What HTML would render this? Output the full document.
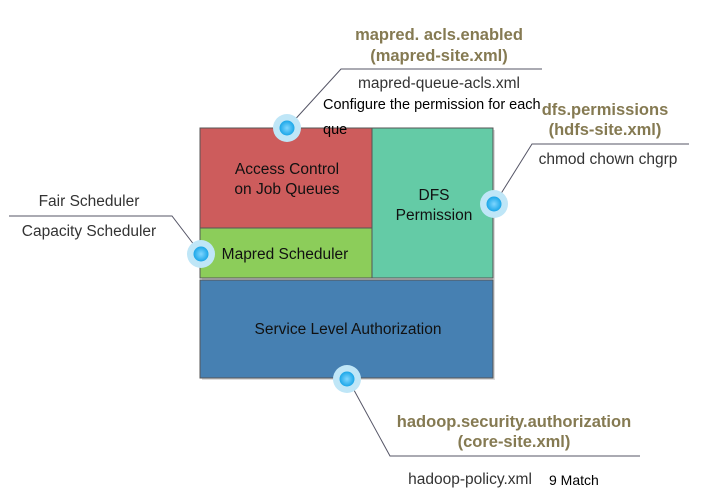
<!DOCTYPE html>
<html><head><meta charset="utf-8"><style>
body{margin:0;background:#fff;}
svg{display:block;font-family:"Liberation Sans",sans-serif;}
.b{font-weight:bold;fill:#857a52;font-size:16.5px;}
.t{fill:#333;font-size:15.5px;}
.k{fill:#111;font-size:15.5px;}
</style></head><body>
<svg width="722" height="493" viewBox="0 0 722 493">
<defs><radialGradient id="g"><stop offset="0" stop-color="#7fd6ff"/><stop offset="1" stop-color="#1aa6e8"/></radialGradient></defs>
<rect x="202" y="130" width="293" height="250" fill="#ddd"/>
<rect x="200" y="128" width="172" height="100" fill="#cd5c5c" stroke="#555" stroke-width="1"/>
<rect x="200" y="228" width="172" height="50" fill="#8ccd5a" stroke="#555" stroke-width="1"/>
<rect x="372" y="128" width="121" height="150" fill="#64cba6" stroke="#555" stroke-width="1"/>
<rect x="200" y="280" width="293" height="98" fill="#4680b2" stroke="#555" stroke-width="1"/>
<g stroke="#556" stroke-width="1" fill="none">
<polyline points="290,125 341,69 542,69"/>
<polyline points="497,200 532,144 689,144"/>
<polyline points="198,250 172,216 9,216"/>
<polyline points="349,381 390,456 640,456"/>
</g>
<g>
<circle cx="287" cy="128" r="14" fill="#bfe6f7"/><circle cx="287" cy="128" r="7.5" fill="url(#g)"/>
<circle cx="494" cy="204" r="14" fill="#bfe6f7"/><circle cx="494" cy="204" r="7.5" fill="url(#g)"/>
<circle cx="201" cy="254" r="14" fill="#bfe6f7"/><circle cx="201" cy="254" r="7.5" fill="url(#g)"/>
<circle cx="347" cy="379" r="14" fill="#bfe6f7"/><circle cx="347" cy="379" r="7.5" fill="url(#g)"/>
</g>
<g text-anchor="middle">
<text x="439" y="40" class="b">mapred. acls.enabled</text>
<text x="439" y="61" class="b">(mapred-site.xml)</text>
<text x="439" y="88" class="t">mapred-queue-acls.xml</text>
<text x="605" y="115" class="b">dfs.permissions</text>
<text x="605" y="135" class="b">(hdfs-site.xml)</text>
<text x="608" y="164" class="t">chmod chown chgrp</text>
<text x="89" y="206" class="t">Fair Scheduler</text>
<text x="89" y="236" class="t">Capacity Scheduler</text>
<text x="287" y="174" class="k">Access Control</text>
<text x="287" y="194" class="k">on Job Queues</text>
<text x="434" y="200" class="k">DFS</text>
<text x="434" y="220" class="k">Permission</text>
<text x="285" y="259" class="k">Mapred  Scheduler</text>
<text x="348" y="334" class="k">Service Level Authorization</text>
<text x="514" y="427" class="b">hadoop.security.authorization</text>
<text x="514" y="447" class="b">(core-site.xml)</text>
<text x="470" y="484" class="t">hadoop-policy.xml</text>
</g>
<text x="323" y="109" style="font-size:14.5px;fill:#000">Configure the permission for each</text>
<text x="323" y="134" style="font-size:14.5px;fill:#000">que</text>
<text x="549" y="485" style="font-size:14px;fill:#000">9 Match</text>
</svg>
</body></html>
